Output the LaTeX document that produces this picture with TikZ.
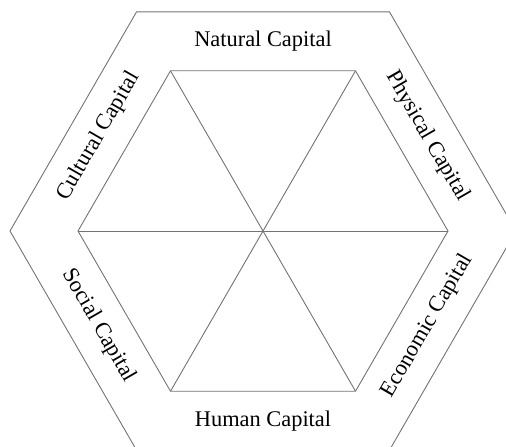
\documentclass[tikz,border=0pt]{standalone}
\usepackage{fontspec}
\setmainfont{Liberation Serif}
\usetikzlibrary{calc}

\begin{document}
\begin{tikzpicture}[
  x=0.5pt, y=0.5pt,
  edge/.style={draw=black!55, line width=0.45pt},
  capital/.style={font=\fontsize{11.2}{13}\selectfont, inner sep=0pt}
]
\useasboundingbox (0,0) rectangle (506,446);
\clip (0,0) rectangle (506,446);

% Centre and corners
\coordinate (c) at (263,215);
\foreach \i in {0,...,5} {
  \coordinate (in\i) at ($(c)+(\i*60:185)$);
  \coordinate (out\i) at ($(c)+(\i*60:253)$);
}

% Hexagons
\draw[edge] (out0) -- (out1) -- (out2) -- (out3) -- (out4) -- (out5) -- cycle;
\draw[edge] (in0) -- (in1) -- (in2) -- (in3) -- (in4) -- (in5) -- cycle;

% Spokes
\draw[edge] (in0) -- (in3);
\draw[edge] (in1) -- (in4);
\draw[edge] (in2) -- (in5);

% Labels
\node[capital] (natural) at ($(c)+(90:189.7)$) {Natural Capital};
\node[capital, rotate=-60] (physical) at ($(c)+(30:189.7)$) {Physical Capital};
\node[capital, rotate=60] (economic) at ($(c)+(330:189.7)$) {Economic Capital};
\node[capital] (human) at ($(c)+(270:189.7)$) {Human Capital};
\node[capital, rotate=-60] (social) at ($(c)+(210:189.7)$) {Social Capital};
\node[capital, rotate=60] (cultural) at ($(c)+(150:189.7)$) {Cultural Capital};

\end{tikzpicture}
\end{document}
